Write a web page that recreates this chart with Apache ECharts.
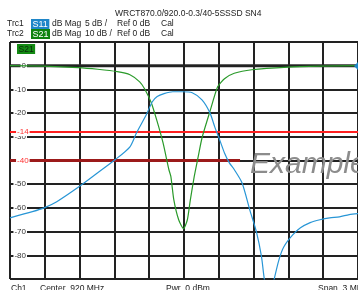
<!DOCTYPE html>
<html><head><meta charset="utf-8">
<script src="https://cdn.jsdelivr.net/npm/echarts@6/dist/echarts.min.js"></script>
<style>html,body{margin:0;padding:0;background:#fff}#c{width:358px;height:290px}</style>
</head><body><div id="c"></div>
<script>
// ---- data ----
const centerMHz = 920;
const spanMHz = 3;
const s21Freq = [918.5, 918.794, 919.088, 919.256, 919.424, 919.534, 919.618, 919.660, 919.718, 919.769, 919.819, 919.870, 919.887, 919.912, 919.954, 919.996, 920.029, 920.055, 920.088, 920.122, 920.155, 920.223, 920.290, 920.349, 920.433, 920.584, 920.895, 921.172, 921.5];
const s21Db   = [0, -0.2, -0.8, -1.5, -2.5, -3.8, -6.8, -9.7, -15.6, -23.6, -32.5, -43.9, -46.8, -56.5, -65, -68.8, -65, -56.5, -46.8, -38.5, -30.5, -19.4, -8.9, -5.5, -3.2, -1.7, -0.6, -0.2, 0];
const s11Freq = [918.5, 918.693, 918.794, 918.903, 919.097, 919.256, 919.408, 919.534, 919.592, 919.676, 919.727, 919.769, 919.828, 919.903, 919.987, 920.071, 920.155, 920.223, 920.265, 920.307, 920.349, 920.391, 920.433, 920.5, 920.567, 920.626, 920.668, 920.693, 920.735, 920.777, 920.819, 920.861, 920.937, 921.004, 921.088, 921.172, 921.256, 921.34, 921.424, 921.5];
const s11Db   = [-32.1, -30.8, -30.0, -28.7, -25.5, -22.6, -19.8, -17.1, -14.1, -10.3, -7.6, -6.5, -5.9, -5.5, -5.5, -5.7, -7.2, -9.9, -12.9, -15.6, -18.4, -20.5, -21.9, -24.7, -30.4, -35.2, -40.3, -45.1, -50, -45.1, -40.9, -38.2, -35.7, -34.2, -33.1, -32.5, -32.1, -31.9, -31.4, -31.2];
const s11Limit = {value: -14, fromMHz: 918.5, toMHz: 921.5, label: '-14'};
const s21Limit = {value: -40, fromMHz: 918.5, toMHz: 920.483, label: '-40'};
const s21Ticks = [10, 0, -10, -20, -30, -40, -50, -60, -70, -80, -90];
const title = 'WRCT870.0/920.0-0.3/40-5SSSD SN4';

// ---- chart ----
const FONT = '"Liberation Sans", Arial, sans-serif';
const toX = f => Math.round((f - centerMHz) * 1000 * 1000) / 1000; // kHz offset from center
const half = spanMHz * 1000 / 2;
const pairs = (fs, vs) => fs.map((f, i) => [toX(f), vs[i]]);

const chart = echarts.init(document.getElementById('c'), null, {renderer: 'canvas'});

function limitSeries(lim, axis, color, width) {
  return {
    type: 'line', yAxisIndex: axis, silent: true, animation: false,
    symbol: 'circle', symbolSize: 0.1, z: 4,
    lineStyle: {color: color, width: width},
    itemStyle: {color: color},
    label: {show: false},
    data: [
      {value: [toX(lim.fromMHz), lim.value], label: {show: true, position: 'right', distance: 6, formatter: lim.label,
        color: '#ff3030', fontSize: 8, fontFamily: FONT, backgroundColor: '#fff', padding: [0, 1]}},
      [toX(lim.toMHz), lim.value]
    ]
  };
}

const tickText = new Set(s21Ticks.slice(1, -1).map(String));

chart.setOption({
  animation: false,
  grid: {left: 10, right: -9, top: 42, bottom: 11, show: false},
  xAxis: {
    type: 'value', min: -half, max: half, interval: 300,
    axisLine: {show: false}, axisTick: {show: false}, axisLabel: {show: false},
    splitLine: {show: true, lineStyle: {color: '#222', width: 2}}
  },
  yAxis: [
    {
      type: 'value', min: s21Ticks[s21Ticks.length - 1], max: s21Ticks[0], interval: 10,
      axisLine: {show: true, lineStyle: {color: '#222', width: 2}}, axisTick: {show: false},
      splitLine: {show: true, lineStyle: {color: '#222', width: 2}},
      axisLabel: {
        inside: true, align: 'right', margin: 17, fontSize: 8, fontFamily: FONT, color: '#333',
        backgroundColor: '#fff', padding: [0, 1],
        formatter: v => tickText.has(String(v)) ? String(v) : ''
      },
      z: 3
    },
    {type: 'value', min: -45, max: 5, interval: 5, show: false}
  ],
  series: [
    {
      type: 'line', yAxisIndex: 0, symbol: 'none', silent: true, z: 2,
      lineStyle: {color: '#2b2b2b', width: 3},
      data: [[-half, 0], [half, 0]]
    },
    limitSeries(s11Limit, 1, '#ff2020', 2),
    limitSeries(s21Limit, 0, '#9c1a1a', 3),
    {
      name: 'S21', type: 'line', yAxisIndex: 0, symbol: 'none', smooth: 0.2, z: 5,
      lineStyle: {color: '#2a9a2a', width: 1.2},
      data: pairs(s21Freq, s21Db)
    },
    {
      name: 'S11', type: 'line', yAxisIndex: 1, symbol: 'none', smooth: 0.25, z: 5, clip: true,
      lineStyle: {color: '#2896d6', width: 1.2},
      data: pairs(s11Freq, s11Db)
    }
  ],
  graphic: [
    {type: 'text', x: 115, y: 9, style: {text: title, font: '8.5px ' + FONT, fill: '#222'}},
    {type: 'text', x: 7, y: 19.5, style: {text: 'Trc1', font: '8.5px ' + FONT, fill: '#222'}},
    {type: 'text', x: 31, y: 19, style: {text: 'S11', font: '9px ' + FONT, fill: '#fff', backgroundColor: '#1f86c8', padding: [1, 1.5, 0, 1.5]}},
    {type: 'text', x: 52, y: 19.5, style: {text: 'dB Mag', font: '8.5px ' + FONT, fill: '#222'}},
    {type: 'text', x: 85, y: 19.5, style: {text: '5 dB /', font: '8.5px ' + FONT, fill: '#222'}},
    {type: 'text', x: 117, y: 19.5, style: {text: 'Ref 0 dB', font: '8.5px ' + FONT, fill: '#222'}},
    {type: 'text', x: 161, y: 19.5, style: {text: 'Cal', font: '8.5px ' + FONT, fill: '#222'}},
    {type: 'text', x: 7, y: 29.5, style: {text: 'Trc2', font: '8.5px ' + FONT, fill: '#222'}},
    {type: 'text', x: 31, y: 29, style: {text: 'S21', font: '9px ' + FONT, fill: '#fff', backgroundColor: '#0f820f', padding: [1, 1.5, 0, 1.5]}},
    {type: 'text', x: 52, y: 29.5, style: {text: 'dB Mag', font: '8.5px ' + FONT, fill: '#222'}},
    {type: 'text', x: 85, y: 29.5, style: {text: '10 dB /', font: '8.5px ' + FONT, fill: '#222'}},
    {type: 'text', x: 117, y: 29.5, style: {text: 'Ref 0 dB', font: '8.5px ' + FONT, fill: '#222'}},
    {type: 'text', x: 161, y: 29.5, style: {text: 'Cal', font: '8.5px ' + FONT, fill: '#222'}},
    {type: 'text', x: 17, y: 44, z: 10, style: {text: 'S21', font: '8.5px ' + FONT, fill: '#0a2a0a', backgroundColor: '#138a13', padding: [1, 1.5, 0, 1.5]}},
    {type: 'polygon', z: 10, shape: {points: [[358, 62], [358, 70], [354, 66]]}, style: {fill: '#1f86c8'}},
    {type: 'text', x: 250, y: 165, z: 20, style: {text: 'Example', font: 'italic 30px ' + FONT, fill: '#8c8c8c', verticalAlign: 'middle'}},
    {type: 'text', x: 11, y: 284, style: {text: 'Ch1', font: '8.5px ' + FONT, fill: '#222'}},
    {type: 'text', x: 40, y: 284, style: {text: 'Center  920 MHz', font: '8.5px ' + FONT, fill: '#222'}},
    {type: 'text', x: 166, y: 284, style: {text: 'Pwr  0 dBm', font: '8.5px ' + FONT, fill: '#222'}},
    {type: 'text', x: 318, y: 284, style: {text: 'Span  3 MHz', font: '8.5px ' + FONT, fill: '#222'}}
  ]
});
</script></body></html>
